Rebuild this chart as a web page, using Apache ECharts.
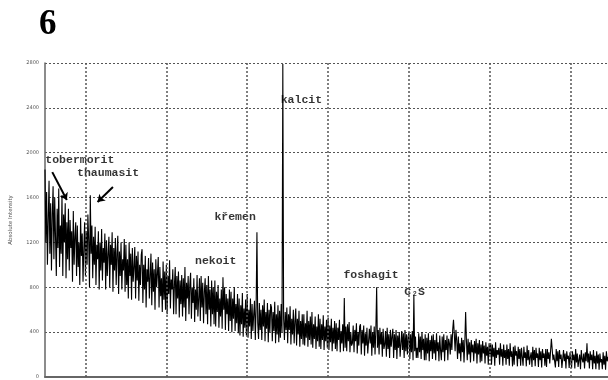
<!DOCTYPE html>
<html>
<head>
<meta charset="utf-8">
<script src="https://cdn.jsdelivr.net/npm/echarts@6/dist/echarts.min.js"></script>
<style>
  html, body {margin: 0; padding: 0; background: #fff;}
  #chart {width: 608px; height: 380px;}
</style>
</head>
<body>
<div id="chart"></div>
<script>
// 2theta scan: first angle, step (deg)
const angleStart = 5;
const angleStep = 0.1;

// intensity, one row per degree (5.0 .. 74.6)
const intensity = [
  1850, 1200, 1650, 1000, 1400, 1750, 1100, 1550, 950, 1450,
  1700, 1050, 1600, 1250, 900, 1500, 1150, 1680, 980, 1350,
  1100, 1620, 900, 1450, 1200, 1550, 880, 1380, 1050, 1500,
  950, 1400, 1150, 1300, 850, 1480, 1000, 1250, 1380, 900,
  1350, 980, 1200, 820, 1420, 1080, 1280, 850, 1150, 1380,
  900, 1300, 1000, 1450, 1220, 800, 1620, 1100, 1350, 880,
  1250, 1000, 1340, 820, 1180, 1050, 1300, 780, 1200, 950,
  1320, 860, 1150, 1020, 1280, 780, 1220, 900, 1100, 1250,
  800, 1180, 1000, 1290, 760, 1150, 950, 1240, 820, 1100,
  1260, 740, 1120, 900, 1200, 780, 1050, 950, 1230, 760,
  1180, 820, 1050, 700, 1200, 900, 1100, 690, 1150, 850,
  980, 1160, 700, 1080, 860, 1120, 680, 1000, 820, 1090,
  1140, 660, 1000, 780, 1080, 620, 960, 850, 1060, 700,
  900, 1100, 640, 1020, 760, 960, 600, 1050, 800, 920,
  1070, 620, 980, 720, 880, 580, 1030, 690, 940, 600,
  1000, 560, 900, 740, 1040, 610, 870, 780, 960, 560,
  820, 980, 560, 900, 700, 940, 530, 860, 650, 910,
  540, 880, 620, 980, 500, 840, 700, 900, 560, 820,
  930, 520, 800, 660, 880, 490, 780, 600, 910, 540,
  700, 880, 500, 900, 620, 840, 480, 760, 880, 560,
  820, 470, 900, 600, 780, 450, 860, 560, 800, 470,
  860, 450, 760, 580, 820, 440, 700, 540, 780, 430,
  890, 600, 800, 420, 740, 560, 700, 410, 780, 500,
  760, 400, 700, 520, 800, 410, 650, 480, 740, 390,
  700, 370, 640, 470, 750, 360, 610, 440, 690, 370,
  740, 350, 600, 450, 700, 340, 650, 410, 560, 680,
  330, 620, 1290, 480, 340, 660, 420, 600, 330, 640,
  450, 690, 320, 580, 430, 660, 310, 600, 400, 650,
  620, 320, 580, 410, 670, 300, 560, 380, 640, 310,
  590, 350, 650, 400, 2790, 520, 330, 580, 420, 620,
  300, 560, 420, 630, 290, 520, 380, 600, 300, 500,
  610, 280, 520, 380, 590, 270, 500, 340, 560, 290,
  560, 280, 480, 350, 590, 270, 500, 330, 540, 290,
  580, 260, 470, 340, 540, 250, 450, 320, 560, 270,
  520, 250, 470, 330, 550, 240, 450, 320, 510, 260,
  530, 240, 460, 310, 520, 230, 440, 300, 500, 250,
  480, 230, 440, 330, 510, 220, 410, 300, 470, 230,
  705, 260, 450, 230, 470, 320, 490, 220, 400, 280,
  300, 460, 220, 420, 320, 480, 210, 400, 280, 450,
  470, 200, 420, 300, 460, 190, 390, 280, 440, 210,
  200, 430, 300, 460, 190, 400, 260, 450, 200, 420,
  800, 260, 420, 200, 440, 290, 400, 180, 430, 250,
  290, 410, 180, 440, 250, 380, 170, 420, 270, 360,
  430, 170, 380, 240, 420, 160, 370, 260, 400, 180,
  180, 410, 240, 390, 170, 420, 230, 380, 200, 360,
  400, 160, 380, 220, 410, 150, 730, 230, 360, 170,
  260, 170, 390, 220, 360, 160, 400, 240, 340, 150,
  380, 150, 350, 210, 390, 140, 330, 230, 370, 160,
  380, 210, 330, 150, 390, 230, 310, 140, 370, 240,
  150, 360, 220, 380, 140, 330, 240, 370, 150, 340,
  300, 200, 380, 240, 420, 510, 380, 230, 420, 330,
  160, 360, 210, 300, 140, 350, 220, 330, 130, 310,
  580, 320, 150, 340, 200, 310, 130, 330, 220, 290,
  140, 320, 210, 340, 120, 300, 200, 330, 130, 290,
  140, 320, 210, 280, 120, 310, 190, 270, 110, 300,
  200, 300, 110, 290, 180, 260, 100, 310, 170, 240,
  200, 260, 110, 300, 180, 250, 100, 290, 170, 240,
  110, 290, 160, 250, 100, 300, 180, 230, 95, 270,
  110, 280, 190, 230, 95, 270, 160, 250, 100, 260,
  250, 100, 270, 170, 220, 95, 280, 150, 240, 110,
  180, 220, 90, 270, 150, 240, 95, 260, 170, 210,
  90, 260, 150, 230, 85, 250, 170, 210, 100, 250,
  90, 250, 160, 220, 120, 230, 340, 250, 150, 200,
  200, 85, 250, 140, 230, 90, 240, 160, 200, 80,
  80, 240, 140, 210, 75, 230, 160, 190, 80, 220,
  220, 80, 230, 150, 200, 75, 250, 130, 210, 90,
  150, 200, 70, 240, 160, 130, 210, 75, 220, 140,
  300, 130, 210, 75, 230, 150, 200, 70, 240, 120,
  190, 70, 230, 120, 200, 65, 210, 130, 160, 70,
  220, 110, 190, 65, 230, 140, 180
];

const gridAngles = [10, 20, 30, 40, 50, 60, 70];
const yTicks = [0, 400, 800, 1200, 1600, 2000, 2400, 2800];

// phase labels (data coords)
const phaseNames = ['tobermorit', 'thaumasit', 'křemen', 'nekoit', 'kalcit', 'foshagit', 'C₂S'];
const phaseX = [9.3, 12.8, 28.5, 26.1, 36.7, 45.3, 50.7];
const phaseY = [1935, 1819, 1427, 1034, 2470, 910, 758];

// arrows [x1, y1, x2, y2]
const arrowTobermorit = [5.9, 1827, 7.7, 1578];
const arrowThaumasit = [13.4, 1695, 11.5, 1560];

const points = intensity.map((v, i) => [+(angleStart + i * angleStep).toFixed(1), v]);

const chart = echarts.init(document.getElementById('chart'));
chart.setOption({
  animation: false,
  title: {
    text: '6', left: 34, top: 2,
    textStyle: {fontFamily: 'Liberation Serif', fontWeight: 'bold', fontSize: 35, color: '#000'}
  },
  grid: {left: 45, right: 0, top: 63, bottom: 3},
  xAxis: {
    type: 'value', min: 5, max: 74.6,
    axisLine: {show: true, lineStyle: {color: '#666', width: 2}},
    axisTick: {show: false},
    axisLabel: {show: false},
    splitLine: {show: false}
  },
  yAxis: {
    type: 'value', min: yTicks[0], max: yTicks[yTicks.length - 1], interval: 400,
    name: 'Absolute Intensity', nameLocation: 'middle', nameGap: 31,
    nameTextStyle: {fontSize: 5.5, color: '#555', fontFamily: 'DejaVu Sans'},
    axisLine: {show: true, lineStyle: {color: '#666', width: 1.5}},
    axisTick: {show: false},
    axisLabel: {fontSize: 5, color: '#555', margin: 6, fontFamily: 'DejaVu Sans', formatter: v => String(v)},
    splitLine: {lineStyle: {color: '#555', type: [2, 2], width: 1}}
  },
  series: [
    {
      type: 'line',
      data: points,
      showSymbol: false,
      lineStyle: {color: '#000', width: 1.1},
      markLine: {
        silent: true,
        symbol: 'none',
        label: {show: false},
        lineStyle: {color: '#555', type: [2, 2], width: 1.5},
        data: gridAngles.map(a => ({xAxis: a}))
      }
    },
    {
      type: 'line',
      data: [],
      markLine: {
        silent: true,
        symbol: ['none', 'arrow'],
        symbolSize: 7,
        label: {show: false},
        lineStyle: {color: '#000', type: 'solid', width: 2},
        data: [arrowTobermorit, arrowThaumasit].map(a => [
          {coord: [a[0], a[1]]}, {coord: [a[2], a[3]]}
        ])
      }
    },
    {
      type: 'scatter',
      symbolSize: 0,
      data: phaseNames.map((n, i) => ({name: n, value: [phaseX[i], phaseY[i]]})),
      label: {
        show: true, position: 'inside', formatter: p => p.name,
        fontFamily: 'Liberation Mono', fontWeight: 'bold', fontSize: 11.5, color: '#000'
      }
    }
  ]
});
</script>
</body>
</html>
